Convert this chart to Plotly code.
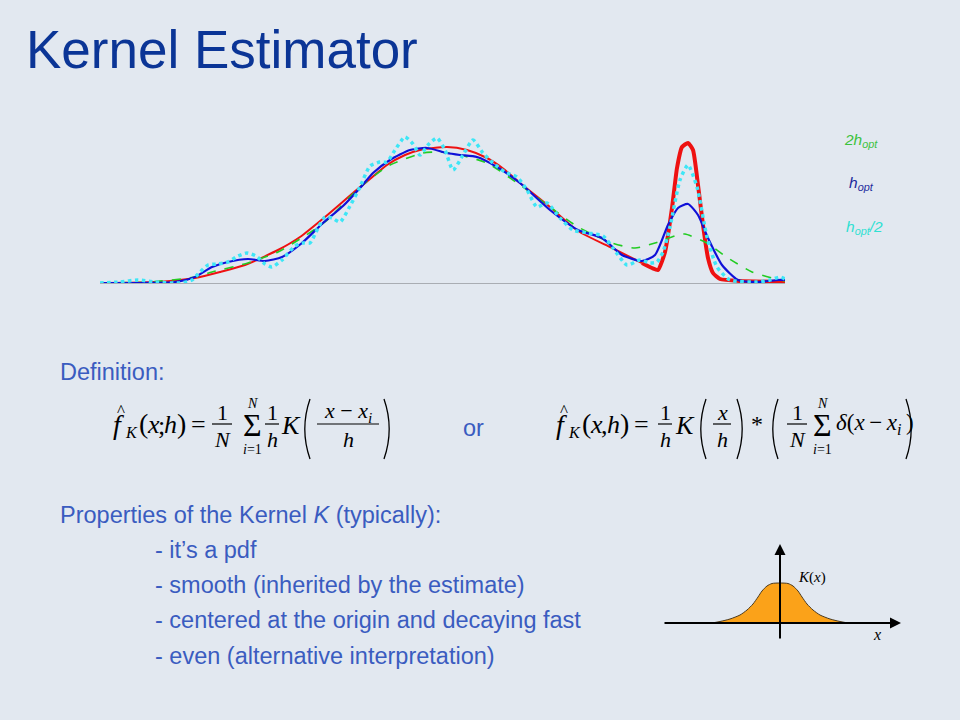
import plotly.graph_objects as go

W, H = 960, 720
BG = "#e2e8f0"
SANS = "Liberation Sans, Arial, sans-serif"
SERIF = "Liberation Serif, Times New Roman, serif"
TITLE_C = "#0b3596"
TEXT_C = "#3a5cc0"

# ---------------- data ----------------
# position along the sample axis, density height (arbitrary units)
red_x = [0, 40, 70, 95, 120, 145, 178, 200, 225, 253, 270, 287, 305, 320, 347, 367, 387, 405, 420, 450, 478, 512, 542]
red_y = [0, 0.5, 2, 5, 11, 18, 33, 46, 66, 90, 104, 118, 128, 133, 136, 133, 125, 113, 100, 76, 52, 35, 20]
red_peak_x = [542, 552, 558, 565, 572, 577, 582, 588, 593, 598, 603, 608, 613, 620, 640, 685]
red_peak_y = [20, 15, 13, 31, 75, 115, 136, 140, 133, 98, 58, 25, 10, 4, 2, 1]

blue_x = [0, 40, 75, 95, 112, 128, 148, 165, 182, 202, 223, 243, 260, 273, 290, 310, 327, 347, 360, 377,
          397, 420, 450, 478, 502, 522, 542, 555, 568, 578, 588, 598, 608, 622, 638, 658, 678, 685]
blue_y = [0, 0, 1, 6, 16, 21, 24, 22, 26, 40, 60, 77, 95, 110, 123, 133, 135, 130, 128, 126,
          116, 100, 73, 53, 45, 28, 22, 28, 58, 75, 79, 68, 45, 18, 3, 1, 3, 3]

green_x = [0, 50, 95, 112, 148, 178, 200, 225, 260, 290, 323, 340, 360, 387, 420, 450, 478, 512, 535,
           555, 578, 585, 605, 628, 652, 672, 685]
green_y = [0, 1, 6, 11, 20, 31, 44, 61, 96, 118, 130, 131, 128, 120, 98, 76, 56, 40, 35,
           40, 48, 49, 41, 25, 11, 5, 2]

cyan_x = [0, 20, 38, 55, 80, 92, 100, 108, 118, 128, 138, 147, 156, 165, 172, 182, 195, 203, 210, 218,
          225, 232, 240, 250, 260, 270, 280, 287, 295, 305, 313, 320, 328, 337, 345, 353, 363, 373, 383,
          393, 405, 417, 427, 437, 447, 460, 473, 488, 503, 513, 527, 540, 550, 557, 563, 570, 580, 588,
          597, 607, 617, 630, 657, 670, 680, 685]
cyan_y = [0, 1, 3, 1, 0, 3, 11, 18, 19, 21, 27, 30, 27, 19, 16, 23, 37, 40, 40, 55,
          66, 65, 61, 77, 96, 117, 121, 121, 133, 146, 139, 128, 138, 145, 133, 113, 128, 143, 130,
          120, 111, 106, 93, 76, 80, 65, 53, 50, 47, 35, 18, 23, 20, 21, 31, 56, 103, 118,
          96, 46, 16, 3, 1, 3, 6, 4]

legend_labels = ["<i>2h<sub>opt</sub></i>", "<i>h<sub>opt</sub></i>", "<i>h<sub>opt</sub>/2</i>"]
legend_colors = ["#3cc23c", "#1c2a9c", "#2fe0d2"]

# kernel K(x) sketch
kern_x = [-68, -60, -50, -40, -33, -27, -22, -18, -13, -8, 0, 8, 13, 18, 22, 27, 33, 40, 50, 60, 68]
kern_y = [0, 1.5, 4, 8, 13, 19, 26, 32, 37, 39.5, 40, 39.5, 37, 32, 26, 19, 13, 8, 4, 1.5, 0]

title_text = "Kernel Estimator"
bullets = ["- it\u2019s a pdf",
           "- smooth (inherited by the estimate)",
           "- centered at the origin and decaying fast",
           "- even (alternative interpretation)"]

# ---------------- helpers ----------------
def px(x):
    return x / W

def py(y):
    return 1 - y / H

annotations = []
shapes = []

def txt(x, y, s, size, color="black", family=SERIF, xanchor="center", yanchor="middle"):
    annotations.append(dict(x=px(x), y=py(y), xref="paper", yref="paper", text=s, showarrow=False,
                            xanchor=xanchor, yanchor=yanchor,
                            font=dict(family=family, size=size, color=color)))

def hline(x0, x1, y, width=1.2, color="black"):
    shapes.append(dict(type="line", xref="paper", yref="paper", x0=px(x0), x1=px(x1), y0=py(y), y1=py(y),
                       line=dict(color=color, width=width)))

def paren(cx, top, bot, left=True, width=1.3):
    d = 4 if left else -4
    mid = (top + bot) / 2
    path = "M {:.5f},{:.5f} Q {:.5f},{:.5f} {:.5f},{:.5f}".format(
        px(cx + d), py(top), px(cx - d * 1.6), py(mid), px(cx + d), py(bot))
    shapes.append(dict(type="path", xref="paper", yref="paper", path=path,
                       line=dict(color="black", width=width)))

def frac(cx, num, den, half, size=22, numsize=None):
    txt(cx, 412, num, numsize or size)
    hline(cx - half, cx + half, 424)
    txt(cx, 439, den, size)

def fhat_lhs(x0, sep):
    txt(x0 + 3, 410, "^", 17)
    txt(x0, 424, "<i>f</i>", 28)
    txt(x0 + 13, 432, "<i>K</i>", 16)
    txt(x0 + 25, 423, "(", 28)
    txt(x0 + 35, 424, "<i>x</i>", 26)
    txt(x0 + 43, 425, sep, 26)
    txt(x0 + 52, 424, "<i>h</i>", 26)
    txt(x0 + 63, 423, ")", 28)
    txt(x0 + 80, 424, "=", 26)

def sigma(cx):
    txt(cx, 403, "<i>N</i>", 14)
    txt(cx, 425, "\u03a3", 32)
    txt(cx, 449, "<i>i</i>=1", 14)

fig = go.Figure()

# ---------------- main density plot ----------------
fig.add_trace(go.Scatter(x=red_x, y=red_y, mode="lines", hoverinfo="skip",
                         line=dict(color="#ee1111", width=2, shape="spline", smoothing=0.6)))
fig.add_trace(go.Scatter(x=red_peak_x, y=red_peak_y, mode="lines", hoverinfo="skip",
                         line=dict(color="#ee1111", width=4, shape="spline", smoothing=0.5)))
fig.add_trace(go.Scatter(x=green_x, y=green_y, mode="lines", hoverinfo="skip",
                         line=dict(color="#22cc22", width=1.6, dash="dash", shape="spline", smoothing=0.6)))
fig.add_trace(go.Scatter(x=blue_x, y=blue_y, mode="lines", hoverinfo="skip",
                         line=dict(color="#1010d8", width=2.2, shape="spline", smoothing=0.6)))
fig.add_trace(go.Scatter(x=cyan_x, y=cyan_y, mode="lines", hoverinfo="skip",
                         line=dict(color="#3ee6f6", width=3.5, dash="dot", shape="spline", smoothing=0.6)))

# ---------------- kernel sketch ----------------
fig.add_trace(go.Scatter(x=kern_x, y=kern_y, mode="lines", fill="tozeroy", hoverinfo="skip",
                         fillcolor="#fba219", line=dict(color="#4a3a20", width=1, shape="spline", smoothing=0.7),
                         xaxis="x2", yaxis="y2"))

# axes arrows of the kernel sketch
annotations.append(dict(x=121, y=0, ax=-117, ay=0, xref="x2", yref="y2", axref="x2", ayref="y2",
                        text="", showarrow=True, arrowhead=2, arrowsize=1.1, arrowwidth=2, arrowcolor="black"))
annotations.append(dict(x=0, y=79, ax=0, ay=-17, xref="x2", yref="y2", axref="x2", ayref="y2",
                        text="", showarrow=True, arrowhead=2, arrowsize=1.1, arrowwidth=2, arrowcolor="black"))
txt(812, 577, "<i>K</i>(<i>x</i>)", 15)
txt(877, 634, "<i>x</i>", 16)

# ---------------- texts ----------------
txt(24, 50, title_text, 53, TITLE_C, SANS, xanchor="left")
for lab, col, (lx, ly) in zip(legend_labels, legend_colors, [(861, 141), (861, 183), (864, 227)]):
    txt(lx, ly, lab, 15.5, col, SANS)

BODY = 23.5
txt(58, 372, "Definition:", BODY, TEXT_C, SANS, xanchor="left")
txt(473, 428, "or", BODY, TEXT_C, SANS)
txt(58, 515, "Properties of the Kernel <i>K</i> (typically):", BODY, TEXT_C, SANS, xanchor="left")
for i, b in enumerate(bullets):
    txt(153, 550 + i * 35.2, b, BODY, TEXT_C, SANS, xanchor="left")

# ---------------- left formula ----------------
fhat_lhs(118, ";")
frac(222, "1", "<i>N</i>", 10)
sigma(252)
frac(272, "1", "<i>h</i>", 7)
txt(291, 425, "<i>K</i>", 26)
paren(306, 399, 459, left=True)
frac(348, "<i>x</i> \u2212 <i>x<sub>i</sub></i>", "<i>h</i>", 31)
paren(388, 399, 459, left=False)

# ---------------- right formula ----------------
fhat_lhs(561, ",")
frac(665, "1", "<i>h</i>", 7)
txt(685, 425, "<i>K</i>", 26)
paren(702, 399, 459, left=True)
frac(722, "<i>x</i>", "<i>h</i>", 9)
paren(741, 399, 459, left=False)
txt(757, 424, "*", 24)
paren(774, 399, 459, left=True)
frac(797, "1", "<i>N</i>", 10)
sigma(822)
txt(834, 424, "<i>\u03b4</i>(<i>x</i>\u2009\u2212\u2009<i>x<sub>i</sub></i>\u2009)", 23, xanchor="left")
paren(910, 399, 459, left=False)

fig.update_layout(
    width=W, height=H,
    margin=dict(l=0, r=0, t=0, b=0),
    paper_bgcolor=BG, plot_bgcolor=BG,
    showlegend=False,
    xaxis=dict(domain=[px(100), px(785)], range=[0, 685], showgrid=False, zeroline=False,
               showticklabels=False, ticks="", showline=True, linecolor="#a9adb3", linewidth=1.2,
               fixedrange=True),
    yaxis=dict(domain=[py(283), py(133)], range=[0, 150], showgrid=False, zeroline=False,
               showticklabels=False, ticks="", showline=False, fixedrange=True),
    xaxis2=dict(domain=[px(663), px(900)], range=[-117, 120], visible=False, fixedrange=True),
    yaxis2=dict(domain=[py(640), py(545)], range=[-17, 78], visible=False, fixedrange=True),
    annotations=annotations,
    shapes=shapes,
)

fig.write_html("out.html", config={"displayModeBar": False},
               post_script="document.body.style.margin='0';document.body.style.padding='0';"
                           "document.body.style.overflow='hidden';document.body.style.background='" + BG + "';")
